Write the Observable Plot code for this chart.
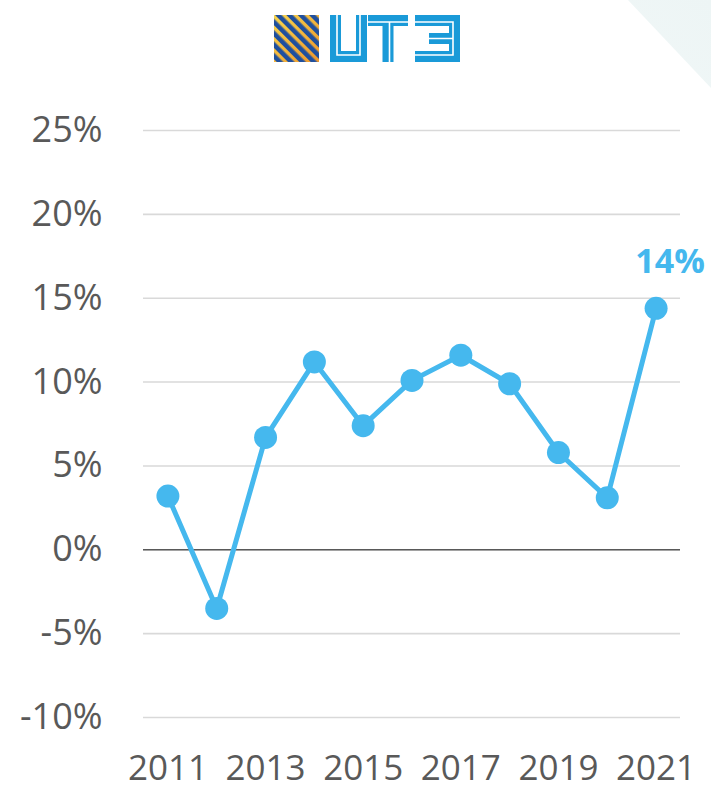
<!DOCTYPE html>
<html>
<head>
<meta charset="utf-8">
<script src="https://cdn.jsdelivr.net/npm/d3@7"></script>
<script src="https://cdn.jsdelivr.net/npm/@observablehq/plot@0.6"></script>
<style>
  html, body { margin: 0; padding: 0; background: #fff; }
  #page { position: relative; width: 711px; height: 790px; overflow: hidden; font-family: "Open Sans", sans-serif; }
  #corner { position: absolute; left: 0; top: 0; width: 711px; height: 130px;
    background: linear-gradient(225deg, #edf5f5 0%, #f4f9f9 45%, #ffffff 75%);
    clip-path: polygon(628px 0, 711px 0, 711px 88px); }
  #logo { position: absolute; left: 270px; top: 10px; }
  #chart { position: absolute; left: 0; top: 75px; }
</style>
</head>
<body>
<div id="page">
  <div id="corner"></div>
  <svg id="logo" width="196" height="58" viewBox="0 0 196 58" role="img" aria-label="UTE">
    <title>UTE</title>
    <defs>
      <linearGradient id="gold" x1="0" y1="0" x2="1" y2="1">
        <stop offset="0" stop-color="#f7d64e"/>
        <stop offset="1" stop-color="#ee962c"/>
      </linearGradient>
      <pattern id="stripes" width="8" height="8" patternUnits="userSpaceOnUse" patternTransform="rotate(-45)">
        <rect x="0" y="0" width="4.6" height="8" fill="#1f4f9e"/>
      </pattern>
      <clipPath id="sq"><rect x="4" y="5" width="45" height="47"/></clipPath>
    </defs>
    <g clip-path="url(#sq)">
      <rect x="4" y="5" width="45" height="47" fill="url(#gold)"/>
      <rect x="4" y="5" width="45" height="47" fill="url(#stripes)"/>
    </g>
    <g fill="none" stroke="#1a9ad8" stroke-width="11" stroke-linejoin="miter">
      <path d="M65.5,5 V46.5 H91.5 V5"/>
      <path d="M98,10.5 H138 M118,10.5 V52"/>
      <path d="M145,10.5 H184.5 V46.5 H145 M159,28.5 H184.5"/>
    </g>
    <g fill="none" stroke="#fff" stroke-width="1.6">
      <path d="M67,5 V45 H90 V5"/>
      <path d="M98,12 H138 M119.5,12 V52"/>
      <path d="M145,12 H183 V45 H145 M159,28.5 H183"/>
    </g>
  </svg>
  <div id="chart"></div>
</div>
<script>
const years = [2011, 2012, 2013, 2014, 2015, 2016, 2017, 2018, 2019, 2020, 2021];
const growth = [3.2, -3.5, 6.7, 11.2, 7.4, 10.1, 11.6, 9.9, 5.8, 3.1, 14.4];
const xTicks = [2011, 2013, 2015, 2017, 2019, 2021];
const yTicks = [-10, -5, 0, 5, 10, 15, 20, 25];
const lastLabel = "14%";

const data = years.map((y, i) => ({year: y, value: growth[i]}));
const blue = "#45b8ee";
const grey = "#595959";

const chart = Plot.plot({
  width: 711,
  height: 715,
  marginLeft: 143,
  marginRight: 31,
  marginTop: 55,
  marginBottom: 73,
  style: {fontFamily: "'Open Sans', sans-serif", background: "transparent", overflow: "visible"},
  x: {type: "point", domain: years, padding: 0.5, round: false},
  y: {domain: [-10, 25]},
  marks: [
    Plot.gridY(yTicks, {stroke: "#d9d9d9", strokeOpacity: 1, strokeWidth: 1.6}),
    Plot.ruleY([0], {stroke: grey, strokeWidth: 1.6}),
    Plot.axisY(yTicks, {tickSize: 0, tickPadding: 41, fontSize: 36, fill: grey, tickFormat: d => d + "%", label: null}),
    Plot.axisX(xTicks, {tickSize: 0, tickPadding: 38, fontSize: 35, fill: grey, tickFormat: d => String(d), label: null}),
    Plot.line(data, {x: "year", y: "value", stroke: blue, strokeWidth: 5}),
    Plot.dot(data, {x: "year", y: "value", r: 11.5, fill: blue, stroke: "none"}),
    Plot.text(data.slice(-1), {x: "year", y: "value", text: () => lastLabel, fill: blue, fontSize: 34, fontWeight: "bold", dx: 14, dy: -46})
  ]
});
document.getElementById("chart").appendChild(chart);
</script>
</body>
</html>
